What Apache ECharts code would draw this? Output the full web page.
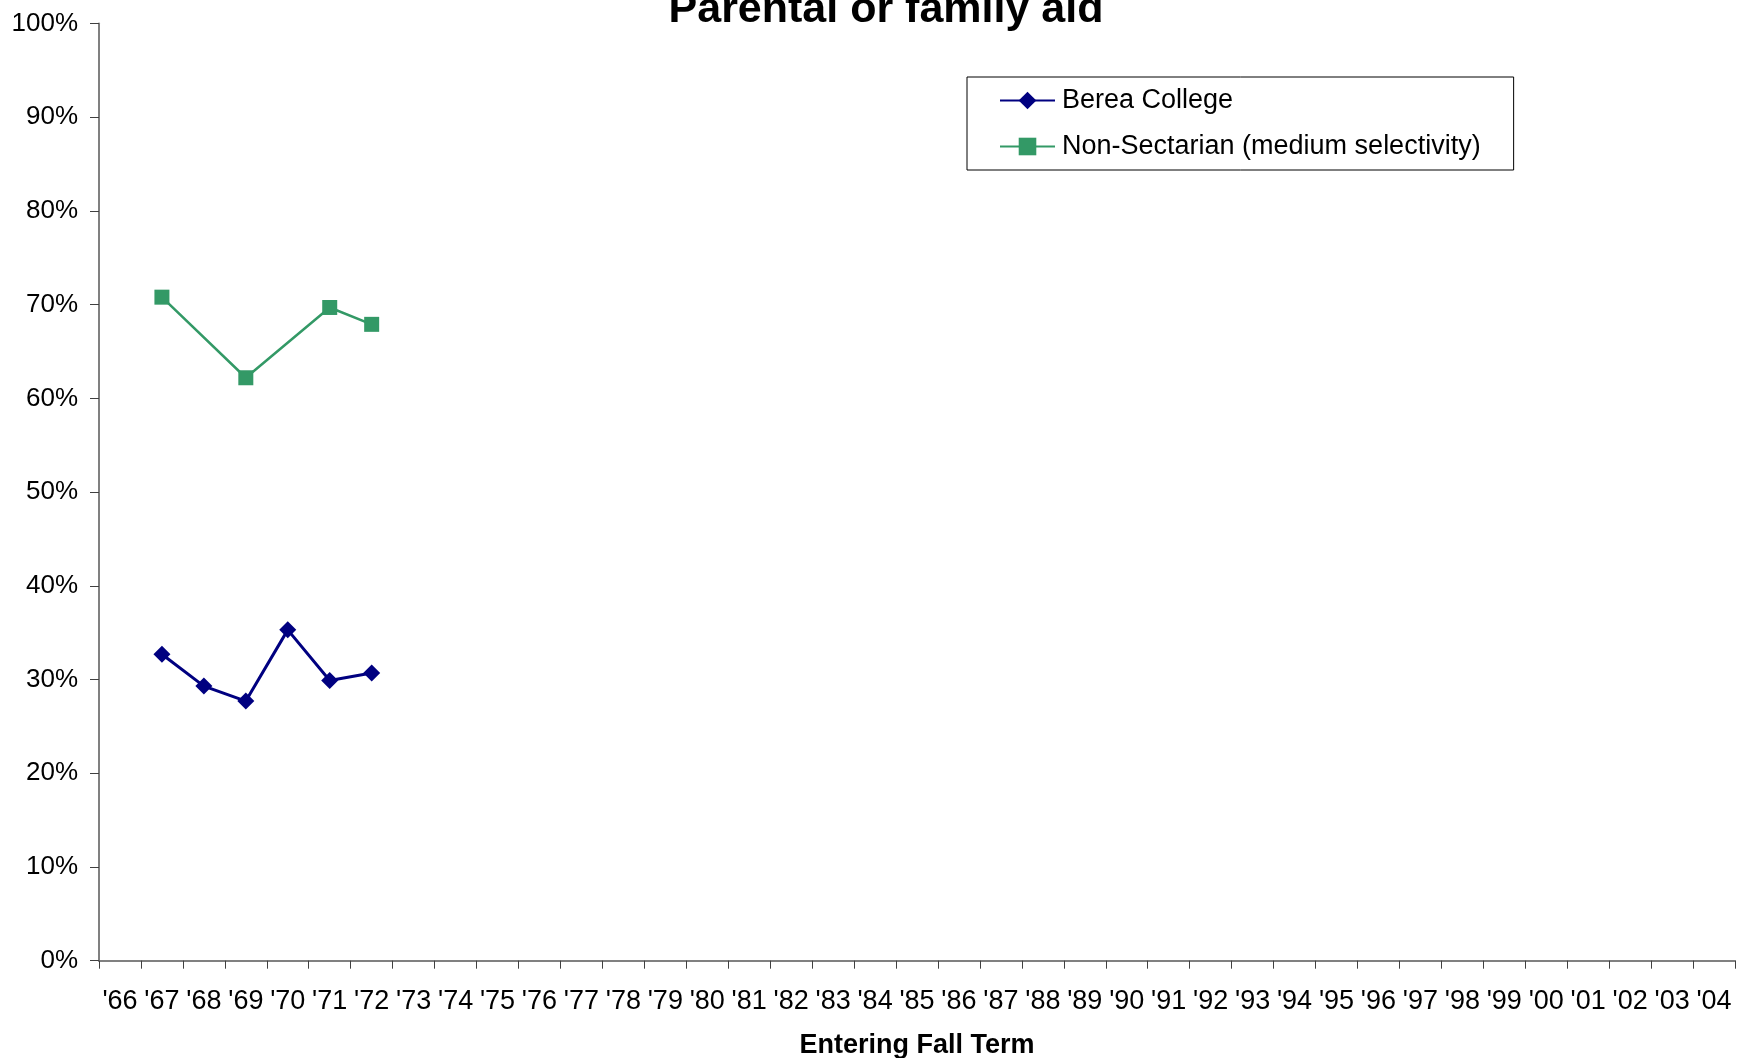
<!DOCTYPE html>
<html>
<head>
<meta charset="utf-8">
<script src="https://cdn.jsdelivr.net/npm/echarts@6/dist/echarts.min.js"></script>
<style>
html,body{margin:0;padding:0;background:#fff;}
#chart{width:1739px;height:1058px;}
</style>
</head>
<body>
<div id="chart"></div>
<script>
var years = ["'66","'67","'68","'69","'70","'71","'72","'73","'74","'75","'76","'77","'78","'79","'80","'81","'82","'83","'84","'85","'86","'87","'88","'89","'90","'91","'92","'93","'94","'95","'96","'97","'98","'99","'00","'01","'02","'03","'04"];
var bereaCollege = [null, 32.7, 29.3, 27.7, 35.3, 29.9, 30.7];
var nonSectarian = [null, 70.8, null, 62.2, null, 69.7, 67.9];
var seriesNames = ["Berea College", "Non-Sectarian (medium selectivity)"];
var titleText = "Parental or family aid";
var xAxisTitle = "Entering Fall Term";

var FONT = "'Liberation Sans', Arial, Helvetica, sans-serif";
var chart = echarts.init(document.getElementById('chart'), null, {renderer: 'canvas'});
chart.setOption({
  animation: false,
  backgroundColor: '#ffffff',
  textStyle: {fontFamily: FONT},
  title: {
    text: titleText,
    left: 881, top: -16,
    textAlign: 'center',
    textStyle: {fontFamily: FONT, fontSize: 43, fontWeight: 'bold', color: '#000'}
  },
  legend: {
    orient: 'vertical',
    left: 967, top: 77,
    padding: [10, 33, 10, 32],
    itemGap: 19,
    itemWidth: 55,
    itemHeight: 22,
    borderColor: '#000',
    borderWidth: 1,
    textStyle: {fontFamily: FONT, fontSize: 27, color: '#000', padding: [0,0,0,2]},
    data: seriesNames
  },
  grid: {left: 99, right: 4, top: 23.5, bottom: 97.3, containLabel: false, outerBoundsMode: 'none'},
  xAxis: {
    type: 'category',
    data: years,
    boundaryGap: true,
    name: xAxisTitle,
    nameLocation: 'middle',
    nameGap: 71,
    nameTextStyle: {fontFamily: FONT, fontSize: 27, fontWeight: 'bold', color: '#000'},
    axisLine: {show: true, lineStyle: {color: '#808080', width: 2}},
    axisTick: {show: true, interval: 0, length: 8, lineStyle: {color: '#404040', width: 1}},
    axisLabel: {interval: 0, margin: 27, fontFamily: FONT, fontSize: 27, color: '#000'},
    splitLine: {show: false}
  },
  yAxis: {
    type: 'value',
    min: 0, max: 100, interval: 10,
    axisLine: {show: true, lineStyle: {color: '#808080', width: 2}},
    axisTick: {show: true, length: 9, lineStyle: {color: '#404040', width: 1}},
    axisLabel: {formatter: '{value}%', margin: 21, fontFamily: FONT, fontSize: 26, color: '#000'},
    splitLine: {show: false}
  },
  series: [
    {
      name: seriesNames[0],
      type: 'line',
      data: bereaCollege,
      symbol: 'diamond',
      symbolSize: 17,
      showAllSymbol: true,
      connectNulls: true,
      lineStyle: {color: '#000080', width: 3},
      itemStyle: {color: '#000080'}
    },
    {
      name: seriesNames[1],
      type: 'line',
      data: nonSectarian,
      symbol: 'rect',
      symbolSize: 15,
      showAllSymbol: true,
      connectNulls: true,
      lineStyle: {color: '#339966', width: 2.5},
      itemStyle: {color: '#339966'}
    }
  ]
});
</script>
</body>
</html>
